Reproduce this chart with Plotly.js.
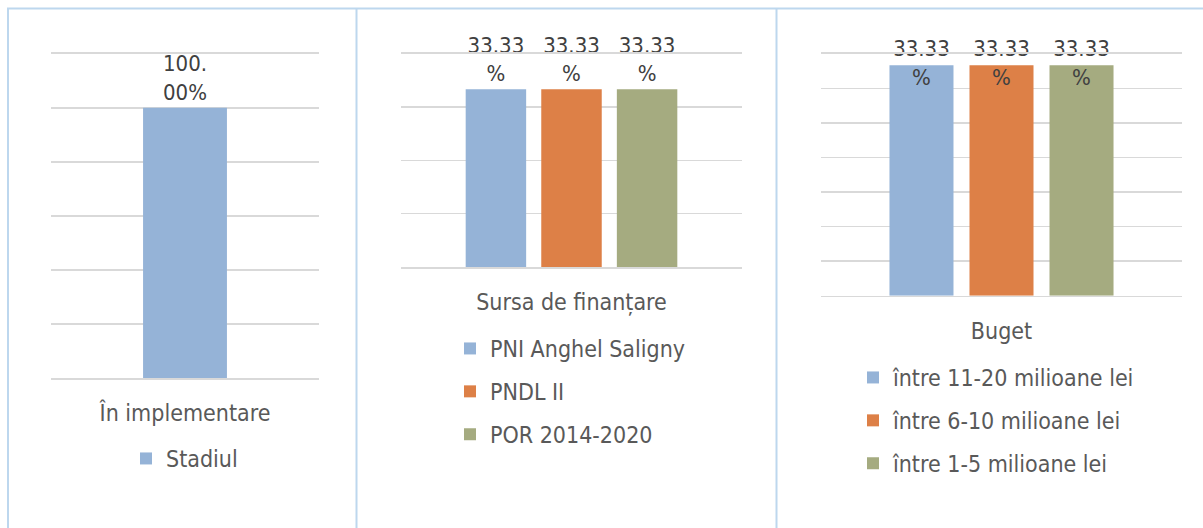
<!DOCTYPE html>
<html>
<head>
<meta charset="utf-8">
<script src="https://cdn.plot.ly/plotly-3.0.1.min.js"></script>
<style>html,body{margin:0;padding:0;background:#fff;}#chart{width:1203px;height:528px;}</style>
</head>
<body>
<div id="chart"></div>
<script>
// ---- data ----
const stadiulCategories = ["În implementare"];
const stadiulSeries = ["Stadiul"];
const stadiulValues = [100.00];
const stadiulLabels = ["100.<br>00%"];

const sursaCategories = ["Sursa de finanțare"];
const sursaSeries = ["PNI Anghel Saligny", "PNDL II", "POR 2014-2020"];
const sursaValues = [33.33, 33.33, 33.33];
const sursaLabels = ["33.33<br>%", "33.33<br>%", "33.33<br>%"];

const bugetCategories = ["Buget"];
const bugetSeries = ["între 11-20 milioane lei", "între 6-10 milioane lei", "între 1-5 milioane lei"];
const bugetValues = [33.33, 33.33, 33.33];
const bugetLabels = ["33.33<br>%", "33.33<br>%", "33.33<br>%"];

// ---- style ----
const colors = ["#95B3D7", "#DD8047", "#A5AB80"];
const FONT = "DejaVu Sans Condensed, DejaVu Sans, sans-serif";
const W = 1203, H = 528;
const px = v => v / W;
const py = v => (H - v) / H;

const traces = [];
// panel 1
traces.push({
  type: "bar", x: stadiulCategories, y: stadiulValues, name: stadiulSeries[0],
  xaxis: "x", yaxis: "y", legend: "legend", legendgroup: "s0",
  marker: {color: colors[0]}, width: 0.313,
  text: stadiulLabels, textposition: "outside", constraintext: "none", cliponaxis: false,
  textfont: {family: FONT, size: 22, color: "#404040"}, hoverinfo: "skip"
});
// panel 2
sursaSeries.forEach((s, i) => {
  traces.push({
    type: "bar", x: sursaCategories, y: [sursaValues[i]], name: s,
    xaxis: "x2", yaxis: "y2", legend: "legend2", legendgroup: "f" + i,
    marker: {color: colors[i]},
    text: [sursaLabels[i]], textposition: "outside", constraintext: "none", cliponaxis: false,
    textfont: {family: FONT, size: 22, color: "#404040"}, hoverinfo: "skip"
  });
});
// panel 3
bugetSeries.forEach((s, i) => {
  traces.push({
    type: "bar", x: bugetCategories, y: [bugetValues[i]], name: s,
    xaxis: "x3", yaxis: "y3", legend: "legend3", legendgroup: "b" + i,
    marker: {color: colors[i]}, hoverinfo: "skip"
  });
});
bugetSeries.forEach((s, i) => {
  traces.push({
    type: "scatter", mode: "text", x: bugetCategories, y: [bugetValues[i]],
    xaxis: "x3", yaxis: "y3", showlegend: false, cliponaxis: false,
    text: [bugetLabels[i]], textposition: "middle center",
    textfont: {family: FONT, size: 22, color: "#404040"}, hoverinfo: "skip"
  });
});

const gridCol = "#D9D9D9";
function yax(domain, max, dtick) {
  return {domain: domain, range: [0, max], dtick: dtick, showgrid: true, gridcolor: gridCol, gridwidth: 1.5,
          zeroline: false, showticklabels: false, ticks: "", showline: false, fixedrange: true};
}
function xax(domain, anchor) {
  return {domain: domain, anchor: anchor, type: "category", showgrid: false, zeroline: false,
          showline: true, mirror: true, linecolor: gridCol, linewidth: 1.5, ticks: "", ticklabelstandoff: 14,
          tickfont: {family: FONT, size: 23, color: "#595959"}, fixedrange: true};
}
function leg(x, ytop) {
  return {x: px(x), y: py(ytop), xanchor: "left", yanchor: "top", orientation: "v",
          font: {family: FONT, size: 23, color: "#595959"}, bgcolor: "rgba(0,0,0,0)",
          tracegroupgap: 10, itemclick: false, itemdoubleclick: false};
}

const borderCol = "#BDD7EE";
const layout = {
  width: W, height: H, margin: {l: 0, r: 0, t: 0, b: 0},
  paper_bgcolor: "#FFFFFF", plot_bgcolor: "rgba(0,0,0,0)",
  font: {family: FONT, color: "#595959"},
  barmode: "group", bargap: 0.335, bargroupgap: 0.2,
  scattermode: "group", scattergap: 0.335,
  showlegend: true,
  xaxis: xax([px(51), px(319)], "y"),
  yaxis: yax([py(378), py(53.7)], 120, 20),
  xaxis2: xax([px(401), px(742)], "y2"),
  yaxis2: yax([py(267), py(53.7)], 40, 10),
  xaxis3: xax([px(821), px(1182)], "y3"),
  yaxis3: yax([py(295.7), py(53.7)], 35, 5),
  legend: leg(126, 437),
  legend2: leg(450, 327),
  legend3: leg(853, 356),
  shapes: [
    {type: "line", xref: "paper", yref: "paper", x0: px(7), x1: 1.01, y0: py(8.5), y1: py(8.5), line: {color: borderCol, width: 2}},
    {type: "line", xref: "paper", yref: "paper", x0: px(8), x1: px(8), y0: py(8.5), y1: -0.05, line: {color: borderCol, width: 2}},
    {type: "line", xref: "paper", yref: "paper", x0: px(356.5), x1: px(356.5), y0: py(8.5), y1: -0.05, line: {color: borderCol, width: 2}},
    {type: "line", xref: "paper", yref: "paper", x0: px(776.5), x1: px(776.5), y0: py(8.5), y1: -0.05, line: {color: borderCol, width: 2}}
  ]
};

Plotly.newPlot("chart", traces, layout, {displayModeBar: false, staticPlot: true});
</script>
</body>
</html>
